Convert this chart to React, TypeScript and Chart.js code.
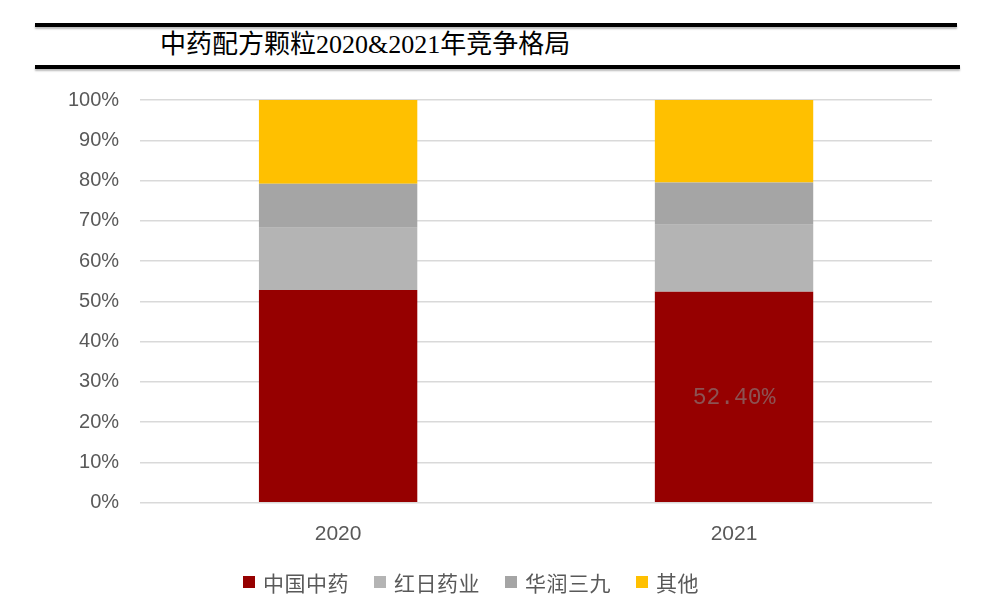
import { useEffect, useRef } from 'react';
import { Chart, ChartConfiguration, Plugin, registerables } from 'chart.js';

Chart.register(...registerables);

const years = ['2020', '2021'];
const seriesNames = ['中国中药', '红日药业', '华润三九', '其他'];
const zhongguo = [52.8, 52.4];
const hongri = [15.5, 16.6];
const huarun = [10.9, 10.5];
const others = [20.8, 20.5];
const seriesColors = ['#960000', '#b4b4b4', '#a5a5a5', '#ffc000'];
const yTicks = [0, 10, 20, 30, 40, 50, 60, 70, 80, 90, 100];
// only the 2021 share of 中国中药 carries a label in the source
const labelled = [{ dataset: 0, index: 1 }];

const valueLabels: Plugin<'bar'> = {
  id: 'valueLabels',
  afterDatasetsDraw(chart) {
    const ctx = chart.ctx;
    ctx.save();
    ctx.font = '23px "Liberation Mono", monospace';
    ctx.fillStyle = '#8c5252';
    ctx.textAlign = 'center';
    ctx.textBaseline = 'middle';
    labelled.forEach(({ dataset, index }) => {
      const bar = chart.getDatasetMeta(dataset).data[index];
      const v = chart.data.datasets[dataset].data[index] as number;
      const p = bar.getCenterPoint();
      ctx.fillText(v.toFixed(2) + '%', p.x, p.y + 1);
    });
    ctx.restore();
  },
};

const App = () => {
  const canvasRef = useRef<HTMLCanvasElement>(null);

  useEffect(() => {
    const all = [zhongguo, hongri, huarun, others];
    const config: ChartConfiguration<'bar'> = {
      type: 'bar',
      data: {
        labels: years,
        datasets: seriesNames.map((name, i) => ({
          label: name,
          data: all[i],
          backgroundColor: seriesColors[i],
          borderWidth: 0,
          categoryPercentage: 1,
          barPercentage: 0.4,
        })),
      },
      options: {
        animation: false,
        responsive: true,
        maintainAspectRatio: false,
        layout: { padding: { top: 100, left: 47, right: 57, bottom: 49 } },
        plugins: {
          title: { display: false },
          tooltip: { enabled: false },
          legend: { display: false },
        },
        scales: {
          x: {
            stacked: true,
            grid: { display: false, drawTicks: false },
            border: { display: false },
            ticks: {
              color: '#595959',
              padding: 19,
              font: { family: '"Liberation Sans", Arial, sans-serif', size: 21 },
            },
          },
          y: {
            stacked: true,
            min: 0,
            max: 100,
            afterBuildTicks(axis) {
              axis.ticks = yTicks.map((v) => ({ value: v }));
            },
            grid: { color: '#d9d9d9', lineWidth: 1.5, drawTicks: false },
            border: { display: false },
            ticks: {
              color: '#595959',
              padding: 21,
              callback: (v) => v + '%',
              font: { family: '"Liberation Sans", Arial, sans-serif', size: 20 },
            },
          },
        },
      },
      plugins: [valueLabels],
    };
    const chart = new Chart(canvasRef.current as HTMLCanvasElement, config);
    return () => {
      chart.destroy();
    };
  }, []);

  return (
    <div style={{ position: 'absolute', left: 0, top: 0, width: 989, height: 615, background: '#fff' }}>
      <div style={{ position: 'absolute', left: 35, top: 23, width: 922, height: 4, background: '#000', boxShadow: '0 2px 2px #bbb' }} />
      <div
        style={{
          position: 'absolute',
          left: 160,
          top: 28,
          height: 34,
          lineHeight: '34px',
          fontFamily: '"Liberation Serif", "Noto Sans CJK SC", serif',
          fontSize: 26,
          color: '#000',
          whiteSpace: 'nowrap',
        }}
      >
        中药配方颗粒2020&2021年竞争格局
      </div>
      <div style={{ position: 'absolute', left: 35, top: 65, width: 925, height: 4, background: '#000', boxShadow: '0 2px 2px #bbb' }} />
      <div style={{ position: 'absolute', left: 0, top: 0, width: 989, height: 615 }}>
        <canvas ref={canvasRef} />
      </div>
      <div
        style={{
          position: 'absolute',
          left: 243,
          top: 567,
          height: 30,
          display: 'flex',
          alignItems: 'center',
          gap: 25,
          fontFamily: '"Noto Sans CJK SC", sans-serif',
          fontSize: 21,
          letterSpacing: 0.5,
          color: '#595959',
          whiteSpace: 'nowrap',
        }}
      >
        {seriesNames.map((name, i) => (
          <div key={name} style={{ display: 'flex', alignItems: 'center', gap: 8 }}>
            <span style={{ width: 12, height: 12, background: seriesColors[i], display: 'inline-block' }} />
            <span style={{ lineHeight: '30px' }}>{name}</span>
          </div>
        ))}
      </div>
    </div>
  );
};

export default App;
